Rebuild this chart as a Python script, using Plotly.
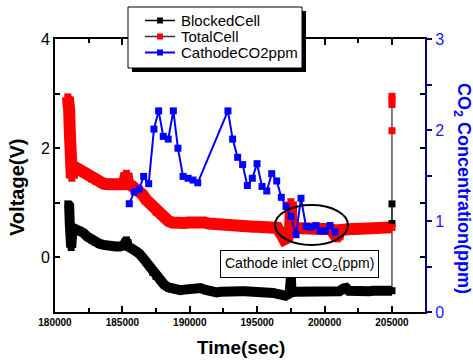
import plotly.graph_objects as go

# ---- data -------------------------------------------------------------
blocked_t = [180950, 181050, 181100, 181150, 181200, 181280, 181500, 181800, 182100, 182400,
             182700, 183000, 183300, 183600, 183900, 184200, 184500, 184800, 185100, 185300,
             185400, 185700, 186000, 186250, 186500, 186750, 187000, 187250, 187500, 187800,
             188100, 188400, 188700, 189000, 189300, 189600, 189900, 190200, 190500, 190800,
             191100, 191400, 191700, 192000, 192300, 192600, 192900, 193200, 193500, 193800,
             194100, 194400, 194700, 195000, 195300, 195600, 195900, 196200, 196500, 196800,
             197100, 197400, 197500, 197550, 197800, 198100, 198400, 198700, 199000, 199300,
             199600, 199900, 200200, 200500, 200800, 201100, 201400, 201600, 201800, 202100,
             202400, 202700, 203000, 203300, 203600, 203900, 204200, 204500, 204800, 205000,
             205000, 205000]
blocked_v = [0.98, 0.95, 0.60, 0.30, 0.18, 0.45, 0.52, 0.50, 0.45, 0.38,
             0.32, 0.28, 0.25, 0.23, 0.21, 0.20, 0.20, 0.20, 0.22, 0.32,
             0.20, 0.16, 0.12, 0.07, 0.00, -0.09, -0.17, -0.27, -0.35, -0.42,
             -0.50, -0.55, -0.58, -0.60, -0.60, -0.59, -0.58, -0.57, -0.56, -0.56,
             -0.59, -0.62, -0.63, -0.64, -0.63, -0.62, -0.62, -0.62, -0.62, -0.62,
             -0.62, -0.62, -0.63, -0.63, -0.63, -0.63, -0.64, -0.65, -0.67, -0.69,
             -0.70, -0.66, -0.38, -0.64, -0.63, -0.63, -0.63, -0.62, -0.62, -0.62,
             -0.62, -0.63, -0.63, -0.64, -0.64, -0.62, -0.57, -0.56, -0.61, -0.62,
             -0.62, -0.62, -0.62, -0.62, -0.61, -0.61, -0.61, -0.61, -0.61, -0.61,
             0.62, 0.98]

total_t = [180950, 181000, 181050, 181100, 181150, 181200, 181250, 181300, 181500, 181800,
           182100, 182400, 182700, 183000, 183300, 183600, 183900, 184200, 184500, 184800,
           185100, 185300, 185400, 185700, 186000, 186250, 186500, 186750, 187000, 187250,
           187500, 187800, 188100, 188400, 188700, 189000, 189300, 189600, 189900, 190200,
           190500, 190800, 191100, 191400, 191700, 192000, 192300, 192600, 192900, 193200,
           193500, 193800, 194100, 194400, 194700, 195000, 195300, 195600, 195900, 196200,
           196500, 196800, 197000, 197250, 197450, 197500, 197550, 197800, 198100, 198400,
           198700, 199000, 199300, 199600, 199900, 200200, 200500, 200800, 200950, 201100,
           201400, 201700, 202000, 202300, 202600, 202900, 203200, 203500, 203800, 204100,
           204400, 204700, 205000, 205000, 205000, 205000, 205000]
total_v = [2.94, 2.90, 2.70, 2.30, 1.90, 1.55, 1.45, 1.62, 1.65, 1.60,
           1.56, 1.50, 1.44, 1.40, 1.37, 1.35, 1.34, 1.33, 1.32, 1.32,
           1.34, 1.54, 1.36, 1.31, 1.27, 1.22, 1.15, 1.06, 1.00, 0.92,
           0.83, 0.77, 0.71, 0.67, 0.64, 0.62, 0.62, 0.63, 0.64, 0.65,
           0.66, 0.67, 0.64, 0.62, 0.61, 0.60, 0.60, 0.59, 0.58, 0.58,
           0.57, 0.57, 0.56, 0.56, 0.56, 0.56, 0.55, 0.55, 0.55, 0.54,
           0.54, 0.42, 0.33, 0.36, 0.55, 1.02, 0.55, 0.54, 0.53, 0.53,
           0.53, 0.52, 0.52, 0.52, 0.52, 0.52, 0.51, 0.40, 0.34, 0.50,
           0.52, 0.52, 0.52, 0.52, 0.52, 0.53, 0.53, 0.53, 0.54, 0.54,
           0.54, 0.55, 0.55, 2.32, 2.80, 2.90, 2.95]

co2_t = [185510, 185880, 186250, 186580, 186950, 187340, 187690, 188030, 188400, 188780,
         189120, 189500, 189870, 190240, 190590, 192830, 193180, 193550, 193920, 194270,
         194640, 194990, 195360, 195710, 196080, 196450, 196790, 197140, 197510, 197880,
         198250, 198620, 198990, 199360, 199680, 200050, 200400, 200770]
co2_ppm = [1.19, 1.32, 1.35, 1.49, 1.41, 2.01, 2.21, 1.93, 1.90, 2.21,
           1.80, 1.49, 1.47, 1.45, 1.42, 2.21, 1.90, 1.70, 1.62, 1.39,
           1.47, 1.63, 1.38, 1.33, 1.52, 1.44, 1.26, 1.16, 1.05, 0.85,
           1.25, 0.94, 0.93, 0.95, 0.89, 0.89, 0.95, 0.88]

time_ticks = [180000, 185000, 190000, 195000, 200000, 205000]
volt_ticks = [0, 2, 4]
ppm_ticks = [0, 1, 2, 3]

series_names = ["BlockedCell", "TotalCell", "CathodeCO2ppm"]

# ---- figure -----------------------------------------------------------
FONT = "Arial, Liberation Sans, sans-serif"
W, H = 473, 362
ML, MR, MT, MB = 55, 48, 39, 50
PW, PH = W - ML - MR, H - MT - MB
RED, BLUE, NAVY = "#ff0000", "#0000ff", "#00008b"


def px(x):
    return (x - ML) / PW


def py(y):
    return (H - MB - y) / PH


fig = go.Figure()

# thin connecting lines (underneath the dense sample band)
for t, v in [(blocked_t, blocked_v), (total_t, total_v)]:
    fig.add_trace(go.Scatter(x=t, y=v, mode="lines", hoverinfo="skip",
                             line=dict(color="black", width=1)))

# dense sample band of each voltage record (steady part, before the final jump)
fig.add_trace(go.Scatter(x=blocked_t[:-2], y=blocked_v[:-2], mode="lines", hoverinfo="skip",
                         line=dict(color="black", width=10)))
fig.add_trace(go.Scatter(x=total_t[:-4], y=total_v[:-4], mode="lines", hoverinfo="skip",
                         line=dict(color=RED, width=12)))

# sample markers
fig.add_trace(go.Scatter(x=blocked_t, y=blocked_v, mode="markers", name=series_names[0],
                         marker=dict(symbol="square", size=7, color="black", line=dict(width=0))))
fig.add_trace(go.Scatter(x=total_t, y=total_v, mode="markers", name=series_names[1],
                         marker=dict(symbol="square", size=7, color=RED, line=dict(width=0))))
fig.add_trace(go.Scatter(x=co2_t, y=co2_ppm, yaxis="y2", mode="lines+markers", name=series_names[2],
                         line=dict(color=BLUE, width=2),
                         marker=dict(symbol="square", size=7, color=BLUE, line=dict(width=0))))

axis_common = dict(showgrid=False, zeroline=False, showline=True, linewidth=2)

fig.update_layout(
    width=W, height=H, showlegend=False,
    margin=dict(l=ML, r=MR, t=MT, b=MB, pad=0),
    paper_bgcolor="white", plot_bgcolor="white",
    font=dict(family=FONT, color="black"),
    xaxis=dict(
        **axis_common, linecolor="black", mirror="ticks",
        range=[180000, 207450], tickvals=time_ticks, ticktext=[str(v) for v in time_ticks],
        ticks="inside", ticklen=6, tickwidth=1.5, tickcolor="black",
        minor=dict(dtick=2500, tick0=180000, ticks="inside", ticklen=4, tickwidth=1.5, tickcolor="black"),
        tickfont=dict(size=10, family=FONT, weight="bold", color="black"),
    ),
    yaxis=dict(
        **axis_common, linecolor="black", mirror="ticks",
        range=[-1, 4], tickvals=volt_ticks,
        ticks="inside", ticklen=5, tickwidth=1.5, tickcolor="black",
        minor=dict(dtick=1, tick0=0, ticks="inside", ticklen=5, tickwidth=1.5, tickcolor="black"),
        tickfont=dict(size=16, family=FONT, color="black"),
    ),
    yaxis2=dict(
        showgrid=False, zeroline=False, showline=True, linewidth=2, linecolor=NAVY,
        overlaying="y", side="right", range=[0, 3], tickvals=ppm_ticks,
        ticks="outside", ticklen=5, tickwidth=1.5, tickcolor=NAVY,
        minor=dict(dtick=0.5, tick0=0, ticks="outside", ticklen=5, tickwidth=1.5, tickcolor=NAVY),
        tickfont=dict(size=16, family=FONT, color="#1a1aff"),
    ),
)

# ---- legend box with drop shadow ----------------------------------------
fig.add_shape(type="rect", xref="paper", yref="paper",
              x0=px(132), x1=px(306), y0=py(72), y1=py(11),
              fillcolor="black", line=dict(width=0), layer="above")
fig.add_shape(type="rect", xref="paper", yref="paper",
              x0=px(128), x1=px(302), y0=py(68), y1=py(7),
              fillcolor="white", line=dict(color="black", width=1), layer="above")

legend_rows = [(20.5, "black", "black"), (36.5, "#333333", RED), (52.5, BLUE, BLUE)]
for name, (ry, lc, mc) in zip(series_names, legend_rows):
    fig.add_shape(type="line", xref="paper", yref="paper",
                  x0=px(145), x1=px(175), y0=py(ry), y1=py(ry),
                  line=dict(color=lc, width=1.5 if lc != BLUE else 2), layer="above")
    fig.add_shape(type="rect", xref="paper", yref="paper",
                  x0=px(157), x1=px(163), y0=py(ry + 3), y1=py(ry - 3),
                  fillcolor=mc, line=dict(width=0), layer="above")
    fig.add_annotation(x=px(179), y=py(ry), xref="paper", yref="paper",
                       xanchor="left", yanchor="middle", text=name, showarrow=False,
                       font=dict(size=15, family=FONT, color="black"))

# highlight ellipse around the final CO2 readings
fig.add_shape(type="circle", xref="paper", yref="paper",
              x0=px(275), x1=px(348), y0=py(245), y1=py(205),
              line=dict(color="black", width=2), layer="above")

fig.add_annotation(x=px(299), y=py(263.5), xref="paper", yref="paper",
                   xanchor="center", yanchor="middle",
                   text="Cathode inlet CO<sub>2</sub>(ppm)", showarrow=False,
                   font=dict(size=14, family=FONT, color="black"),
                   bgcolor="white", bordercolor="black", borderwidth=1, borderpad=4)

# axis titles
fig.add_annotation(x=px(241), y=py(347), xref="paper", yref="paper",
                   xanchor="center", yanchor="middle",
                   text="Time(sec)", showarrow=False,
                   font=dict(size=19, family=FONT, weight="bold", color="black"))
fig.add_annotation(x=px(17), y=py(188), xref="paper", yref="paper",
                   xanchor="center", yanchor="middle",
                   text="Voltage(V)", showarrow=False, textangle=-90,
                   font=dict(size=20, family=FONT, weight="bold", color="black"))
fig.add_annotation(x=px(463), y=py(188), xref="paper", yref="paper",
                   xanchor="center", yanchor="middle",
                   text="CO<sub>2</sub> Concentration(ppm)", showarrow=False, textangle=90,
                   font=dict(size=18, family=FONT, weight="bold", color=BLUE))

fig.write_html("out.html")
